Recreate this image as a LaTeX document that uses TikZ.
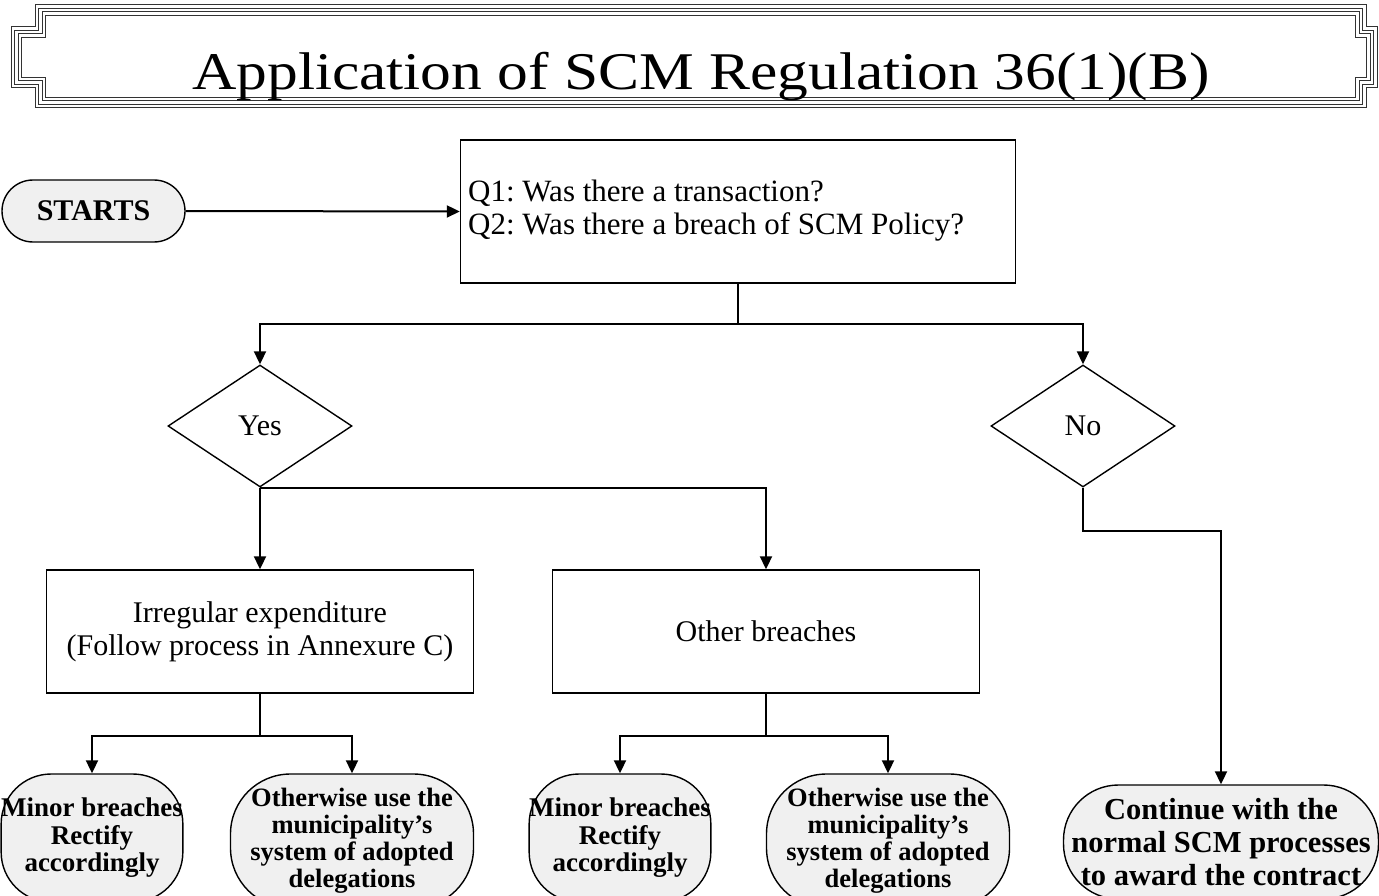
\documentclass[tikz,border=0pt]{standalone}
\usepackage{fontspec}
\setmainfont{Liberation Serif}
\newfontfamily\titlefont[FakeStretch=1.16]{Liberation Serif}
\usetikzlibrary{arrows.meta,shapes.geometric}
\frenchspacing
\begin{document}
\begin{tikzpicture}[x=1pt,y=-1pt,
  conn/.style={draw=black, line width=2pt},
  arr/.style={conn, -{Triangle[length=13pt,width=12pt]}},
  box/.style={draw=black, line width=1.4pt, rectangle, inner sep=0pt, align=center,
     font=\fontsize{30}{33}\selectfont},
  qtext/.style={anchor=base west, inner sep=0pt, font=\fontsize{31}{34}\selectfont},
  dia/.style={draw=black, line width=1.4pt, diamond, inner sep=0pt,
     minimum width=184pt, minimum height=122pt, font=\fontsize{30}{33}\selectfont},
  term/.style={draw=black, line width=1.4pt, fill=black!6, rectangle, inner sep=0pt,
     align=center, font=\bfseries\fontsize{26.5}{27}\selectfont},
  framel/.style={draw=black!80, line width=1pt}
]
\path[use as bounding box] (0,0) rectangle (1379,896);
\clip (0,0) rectangle (1379,896);

% title frame
\foreach \k in {0,3.5,7,10.5}{
  \draw[framel] (35+\k,5+\k) -- (1366-\k,5+\k) -- (1366-\k,27+\k) -- (1377-\k,27+\k)
    -- (1377-\k,88-\k) -- (1366-\k,88-\k) -- (1366-\k,108-\k) -- (35+\k,108-\k)
    -- (35+\k,88-\k) -- (11+\k,88-\k) -- (11+\k,27+\k) -- (35+\k,27+\k) -- cycle;
}
\node[anchor=base, font=\titlefont\fontsize{53}{56}\selectfont, inner sep=0pt] (title) at (701,90)
  {Application of SCM Regulation 36(1)(B)};

% start
\node[term, rounded corners=31pt, minimum width=183pt, minimum height=62pt,
  font=\bfseries\fontsize{30}{32}\selectfont] (start) at (93.5,211) {STARTS};

% question box
\node[draw=black, line width=1.4pt, rectangle, inner sep=0pt,
  minimum width=555pt, minimum height=143pt] (q) at (738,211.5) {};
\node[qtext] (q1) at (468,202) {Q1: Was there a transaction?};
\node[qtext] (q2) at (468,235) {Q2: Was there a breach of SCM Policy?};

\draw[arr] (start.east) -- (q.west);

% diamonds
\node[dia] (yes) at (260,426) {Yes};
\node[dia] (no) at (1083,426) {No};

\draw[arr] (q.south) -- ++(0,40) -| (yes.north);
\draw[arr] (q.south) -- ++(0,40) -| (no.north);

% middle boxes
\node[box, minimum width=427pt, minimum height=123pt] (irr) at (260,631.5)
  {Irregular expenditure\\(Follow process in Annexure C)};
\node[box, minimum width=427pt, minimum height=123pt] (oth) at (766,631.5)
  {Other breaches};

\draw[arr] (yes.south) -- (irr.north);
\draw[arr] (yes.south) -| (oth.north);

% bottom terminals
\node[term, rounded corners=50pt, minimum width=181pt, minimum height=128pt,
  font=\bfseries\fontsize{27}{27.5}\selectfont]
  (m1) at (92,838) {Minor breaches\\Rectify\\accordingly};
\node[term, rounded corners=60pt, minimum width=243pt, minimum height=134pt]
  (o1) at (352,841) {Otherwise use the\\municipality's\\system of adopted\\delegations};
\node[term, rounded corners=50pt, minimum width=181pt, minimum height=128pt,
  font=\bfseries\fontsize{27}{27.5}\selectfont]
  (m2) at (620,838) {Minor breaches\\Rectify\\accordingly};
\node[term, rounded corners=60pt, minimum width=243pt, minimum height=134pt]
  (o2) at (888,841) {Otherwise use the\\municipality's\\system of adopted\\delegations};
\node[term, rounded corners=55pt, minimum width=315pt, minimum height=114pt,
  font=\bfseries\fontsize{30.5}{33}\selectfont]
  (cont) at (1221,842) {Continue with the\\normal SCM processes\\to award the contract};

\draw[arr] (irr.south) -- ++(0,42) -| (m1.north);
\draw[arr] (irr.south) -- ++(0,42) -| (o1.north);
\draw[arr] (oth.south) -- ++(0,42) -| (m2.north);
\draw[arr] (oth.south) -- ++(0,42) -| (o2.north);
\draw[arr] (no.south) -- ++(0,43) -| (cont.north);
\end{tikzpicture}
\end{document}
